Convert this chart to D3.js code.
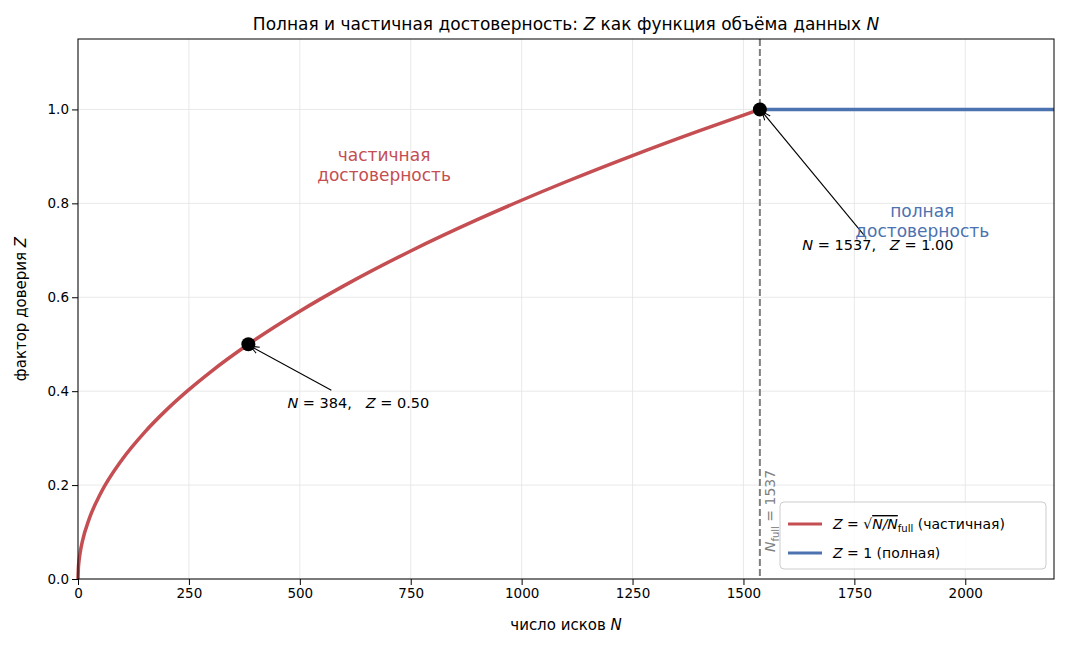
<!DOCTYPE html>
<html><head><meta charset="utf-8">
<script src="https://cdn.jsdelivr.net/npm/d3@7"></script>
<style>body{margin:0;background:#fff}text{font-family:"DejaVu Sans",sans-serif;white-space:pre}</style>
</head><body>
<script>
// values
var partialN = [0, 1, 2, 5, 10, 25, 50, 100, 150, 200, 250, 300, 384, 500, 600, 750, 900, 1000, 1100, 1250, 1400, 1537];
var partialZ = [0, 0.0255, 0.036, 0.057, 0.0807, 0.1275, 0.1804, 0.2551, 0.3124, 0.3607, 0.4033, 0.4418, 0.4998, 0.5703, 0.6248, 0.6986, 0.7652, 0.8066, 0.8460, 0.9018, 0.9544, 1.0];
var fullN = [1537, 2200];
var fullZ = [1, 1];
var markN = [384, 1537];
var markZ = [0.5, 1.0];
var xTicks = [0, 250, 500, 750, 1000, 1250, 1500, 1750, 2000];
var yTicks = [0, 0.2, 0.4, 0.6, 0.8, 1.0];
var nFull = 1537;

var margin = {top: 39, right: 12, bottom: 66, left: 78},
    width = 1066 - margin.left - margin.right,
    height = 645 - margin.top - margin.bottom;

var svg = d3.select("body").append("svg").attr("width", 1066).attr("height", 645);
var g = svg.append("g").attr("transform", "translate(" + margin.left + "," + margin.top + ")");

var x = d3.scaleLinear().domain([0, 2200]).range([0, width]);
var y = d3.scaleLinear().domain([0, 1.15]).range([height, 0]);

// grid
g.selectAll(".gx").data(xTicks).enter().append("line")
  .attr("x1", x).attr("x2", x).attr("y1", 0).attr("y2", height)
  .attr("stroke", "#e3e3e3").attr("stroke-width", 0.8);
g.selectAll(".gy").data(yTicks).enter().append("line")
  .attr("y1", y).attr("y2", y).attr("x1", 0).attr("x2", width)
  .attr("stroke", "#e3e3e3").attr("stroke-width", 0.8);

var line = d3.line().x(function(d) { return x(d[0]); }).y(function(d) { return y(d[1]); });

g.append("path").datum(d3.zip(partialN, partialZ))
  .attr("d", line.curve(d3.curveMonotoneX)).attr("fill", "none")
  .attr("stroke", "#c44e52").attr("stroke-width", 3.5);
g.append("path").datum(d3.zip(fullN, fullZ))
  .attr("d", d3.line().x(function(d) { return x(d[0]); }).y(function(d) { return y(d[1]); }))
  .attr("fill", "none").attr("stroke", "#4c72b0").attr("stroke-width", 3.5);

// vertical dashed line
g.append("line").attr("x1", x(nFull)).attr("x2", x(nFull)).attr("y1", 0).attr("y2", height)
  .attr("stroke", "#7f7f7f").attr("stroke-width", 2).attr("stroke-dasharray", "7,3");
g.append("text").attr("transform", "translate(" + (x(nFull) + 15) + "," + (height - 27) + ") rotate(-90)")
  .attr("fill", "#808080").attr("font-size", 14)
  .html('<tspan font-style="italic">N</tspan><tspan font-size="10" dy="4">full</tspan><tspan dy="-4"> = 1537</tspan>');

// markers
g.selectAll(".pt").data(d3.zip(markN, markZ)).enter().append("circle")
  .attr("cx", function(d) { return x(d[0]); }).attr("cy", function(d) { return y(d[1]); })
  .attr("r", 7).attr("fill", "#000");

// annotations
svg.append("defs").append("marker").attr("id", "ar").attr("viewBox", "0 0 10 10")
  .attr("refX", 10).attr("refY", 5).attr("markerWidth", 8).attr("markerHeight", 8).attr("orient", "auto")
  .append("path").attr("d", "M0,1 L10,5 L0,9").attr("fill", "none").attr("stroke", "#000").attr("stroke-width", 1.2);

function annot(n, z, tx, ty, lx, ly, label) {
  g.append("line").attr("x1", lx).attr("y1", ly).attr("x2", x(n) + 2).attr("y2", y(z) + 2)
    .attr("stroke", "#000").attr("stroke-width", 1.1).attr("marker-end", "url(#ar)");
  g.append("text").attr("x", tx).attr("y", ty).attr("font-size", 14.5).attr("text-anchor", "middle").html(label);
}
annot(384, 0.5, x(384) + 110, y(0.37) + 3, x(384) + 83, y(0.5) + 46,
  '<tspan font-style="italic">N</tspan> = 384,   <tspan font-style="italic">Z</tspan> = 0.50');
annot(1537, 1.0, x(1537) + 118, y(0.705) + 2, x(1537) + 105, y(0.73),
  '<tspan font-style="italic">N</tspan> = 1537,   <tspan font-style="italic">Z</tspan> = 1.00');

g.append("text").attr("x", x(690)).attr("y", y(0.89)).attr("text-anchor", "middle").attr("font-size", 17)
  .attr("fill", "#c44e52").selectAll("tspan").data(["частичная", "достоверность"]).enter().append("tspan")
  .attr("x", x(690)).attr("dy", function(d, i) { return i ? 20 : 0; }).text(function(d) { return d; });
g.append("text").attr("x", x(1903)).attr("y", y(0.77)).attr("text-anchor", "middle").attr("font-size", 17)
  .attr("fill", "#4c72b0").selectAll("tspan").data(["полная", "достоверность"]).enter().append("tspan")
  .attr("x", x(1903)).attr("dy", function(d, i) { return i ? 20 : 0; }).text(function(d) { return d; });

// axes
var xa = g.append("g").attr("transform", "translate(0," + height + ")").call(d3.axisBottom(x).tickValues(xTicks).tickFormat(d3.format("d")).tickSizeOuter(0));
var ya = g.append("g").call(d3.axisLeft(y).tickValues(yTicks).tickFormat(d3.format(".1f")).tickSizeOuter(0));
[xa, ya].forEach(function(a) {
  a.selectAll("text").attr("font-size", 13.5).attr("font-family", "DejaVu Sans").attr("fill", "#000");
  a.select(".domain").remove();
});
g.append("rect").attr("width", width).attr("height", height).attr("fill", "none").attr("stroke", "#000").attr("stroke-width", 1);

svg.append("text").attr("x", margin.left + width / 2).attr("y", 630).attr("text-anchor", "middle").attr("font-size", 15)
  .html('число исков <tspan font-style="italic">N</tspan>');
svg.append("text").attr("transform", "translate(26," + (margin.top + height / 2) + ") rotate(-90)").attr("text-anchor", "middle").attr("font-size", 15)
  .html('фактор доверия <tspan font-style="italic">Z</tspan>');
svg.append("text").attr("x", margin.left + width / 2).attr("y", 30).attr("text-anchor", "middle").attr("font-size", 17)
  .html('Полная и частичная достоверность: <tspan font-style="italic">Z</tspan> как функция объёма данных <tspan font-style="italic">N</tspan>');

// legend
var lg = svg.append("g").attr("transform", "translate(780,502)");
lg.append("rect").attr("width", 266).attr("height", 67).attr("rx", 4).attr("fill", "#fff").attr("fill-opacity", 0.85).attr("stroke", "#ccc");
lg.append("line").attr("x1", 8).attr("x2", 42).attr("y1", 22).attr("y2", 22).attr("stroke", "#c44e52").attr("stroke-width", 3);
lg.append("line").attr("x1", 8).attr("x2", 42).attr("y1", 51).attr("y2", 51).attr("stroke", "#4c72b0").attr("stroke-width", 3);
lg.append("text").attr("x", 53).attr("y", 27).attr("font-size", 14)
  .html('<tspan font-style="italic">Z</tspan> = √<tspan font-style="italic" text-decoration="overline">N/N</tspan><tspan font-size="10" dy="3">full</tspan><tspan dy="-3"> (частичная)</tspan>');
lg.append("text").attr("x", 53).attr("y", 56).attr("font-size", 14)
  .html('<tspan font-style="italic">Z</tspan> = 1 (полная)');
</script>
</body></html>
